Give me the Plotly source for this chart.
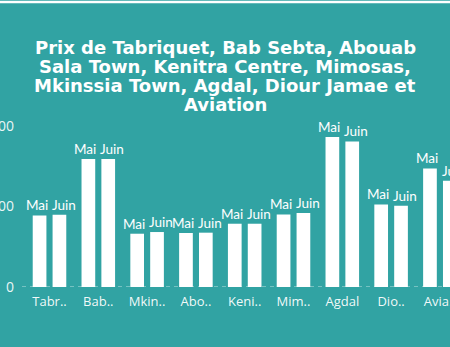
import plotly.graph_objects as go

# ---- data ----
categories = ["Tabriquet", "Bab Sebta", "Mkinssia Town", "Abouab Sala Town",
              "Kenitra Centre", "Mimosas", "Agdal", "Diour Jamae", "Aviation"]
tick_labels = ["Tabr..", "Bab..", "Mkin..", "Abo..", "Keni..", "Mim..", "Agdal", "Dio..", "Avia.."]
mai = [888, 1588, 661, 670, 785, 901, 1861, 1025, 1471]
juin = [897, 1588, 682, 674, 785, 918, 1806, 1009, 1319]
series_names = ["Mai", "Juin"]
y_tickvals = [0, 1000, 2000]
y_ticktext = ["0", "1000", "2000"]
title_lines = ["Prix de Tabriquet, Bab Sebta, Abouab",
               "Sala Town, Kenitra Centre, Mimosas,",
               "Mkinssia Town, Agdal, Diour Jamae et",
               "Aviation"]

BG = "#31a3a3"
W, H = 450, 347
M_L, M_R, M_T, M_B = 22, 0, 120, 60
PLOT_H = H - M_T - M_B


def py(pix):
    """pixel y (from top) -> paper y"""
    return (H - M_B - pix) / PLOT_H


fig = go.Figure()
label_shift = {"Mai": -13, "Juin": 14}
for name, vals in zip(series_names, [mai, juin]):
    fig.add_trace(go.Bar(
        x=categories, y=vals, name=name,
        marker=dict(color="white", line=dict(width=0)),
        hoverinfo="skip",
    ))
    for cat, v in zip(categories, vals):
        fig.add_annotation(x=cat, y=v, text=name, showarrow=False,
                           xanchor="center", yanchor="bottom",
                           xshift=label_shift[name], yshift=0,
                           font=dict(family="Lato", size=13.5, color="white"))

fig.update_layout(
    width=W, height=H,
    margin=dict(l=M_L, r=M_R, t=M_T, b=M_B, autoexpand=False),
    paper_bgcolor=BG, plot_bgcolor=BG,
    barmode="group", bargap=0.186, bargroupgap=0.31,
    showlegend=False,
    xaxis=dict(
        type="category", categoryorder="array", categoryarray=categories,
        range=[-0.5635, 8.207],
        tickvals=categories, ticktext=tick_labels,
        tickfont=dict(family="Open Sans", size=13, color="rgba(255,255,255,0.95)"),
        showgrid=False, zeroline=False, showline=False, ticks="",
        automargin=False, ticklabelstandoff=5,
    ),
    yaxis=dict(
        range=[0, 2072],
        tickvals=y_tickvals, ticktext=y_ticktext,
        tickfont=dict(family="Open Sans", size=14, color="rgba(255,255,255,0.92)"),
        showgrid=False, zeroline=False, showline=False, ticks="",
        automargin=False, ticklabelstandoff=7,
    ),
)

# dashed zero baseline
fig.add_shape(type="line", xref="paper", yref="y", x0=0, x1=1, y0=0, y1=0,
              line=dict(color="rgba(255,255,255,0.45)", width=1.5, dash="4px,4px"),
              layer="below")
# white line at top
fig.add_shape(type="line", xref="paper", yref="paper", x0=-0.2, x1=1.2,
              y0=py(2), y1=py(2), line=dict(color="white", width=2.5))

# title lines
centers = [48.0, 66.7, 85.4, 104.1]
for txt, c in zip(title_lines, centers):
    fig.add_annotation(text=txt, xref="paper", yref="paper",
                       x=(W / 2 - M_L) / (W - M_L - M_R), y=py(c),
                       xanchor="center", yanchor="middle", showarrow=False,
                       font=dict(family="DejaVu Sans", size=18, color="white", weight="bold"))

fig.write_html("out.html")
